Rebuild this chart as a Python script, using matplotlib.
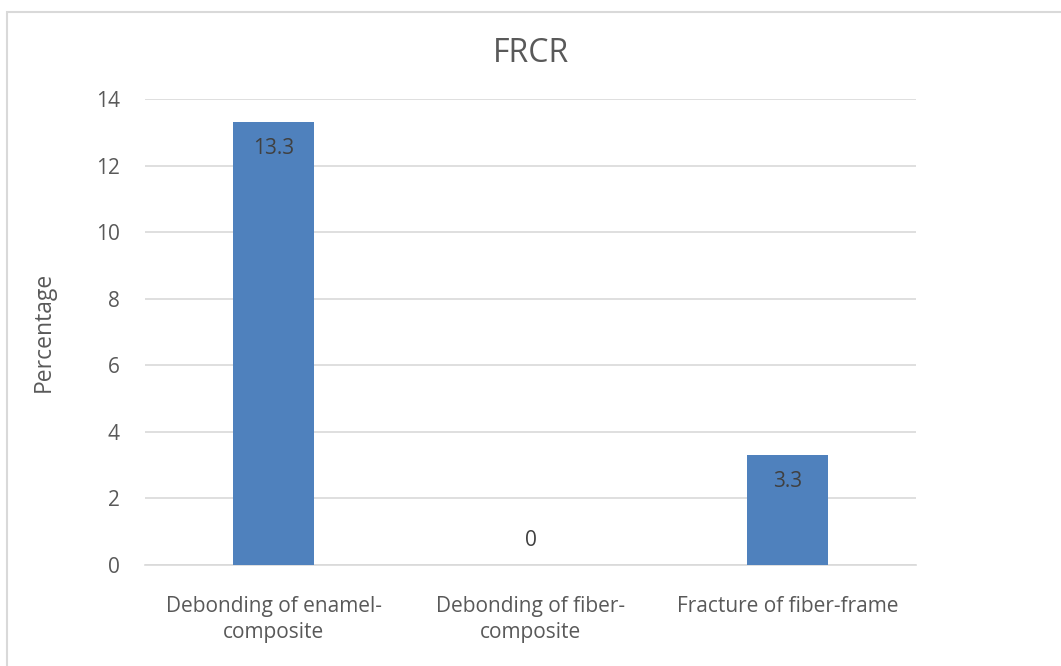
import matplotlib.pyplot as plt
from matplotlib.patches import Rectangle

categories = ["Debonding of enamel-\ncomposite", "Debonding of fiber-\ncomposite", "Fracture of fiber-frame"]
values = [13.3, 0, 3.3]
yticks = [0, 2, 4, 6, 8, 10, 12, 14]

plt.rcParams['font.family'] = ['Open Sans', 'DejaVu Sans']
txt = "#595959"
bar_color = "#4F81BD"

fig = plt.figure(figsize=(10.61, 6.66), dpi=100)
fig.patches.append(Rectangle((7 / 1061, -0.1), 1.2, (660 - 6) / 666 + 0.1, transform=fig.transFigure,
                             fill=False, edgecolor="#D9D9D9", lw=1.5))
ax = fig.add_axes([145 / 1061, 1 - 565 / 666, 771 / 1061, 466 / 666])

x = range(len(categories))
bars = ax.bar(x, values, width=0.315, color=bar_color, zorder=3)
ax.set_xlim(-0.5, 2.5)
ax.set_ylim(0, 14)
ax.set_yticks(yticks)
ax.set_xticks(list(x))
ax.set_xticklabels(categories, fontsize=15, color=txt, linespacing=1.35)
ax.tick_params(axis='y', labelsize=15, labelcolor=txt, length=0, pad=18)
ax.tick_params(axis='x', length=0, pad=22)
ax.grid(axis='y', color="#D9D9D9", lw=1.2, zorder=0)
for s in ["top", "right", "left"]:
    ax.spines[s].set_visible(False)
ax.spines["bottom"].set_color("#D9D9D9")
ax.spines["bottom"].set_linewidth(1.2)

for b, v in zip(bars, values):
    off = -19 if v > 1 else 18
    ax.annotate(f"{v:g}", (b.get_x() + b.get_width() / 2, v), xytext=(0, off),
                textcoords="offset points", ha="center", va="center", fontsize=15, color="#404040")

ax.set_ylabel("Percentage", fontsize=16.5, color=txt, labelpad=29)
ax.set_title("FRCR", fontsize=23, color=txt, pad=27)

fig.savefig("out.png", dpi=100)
